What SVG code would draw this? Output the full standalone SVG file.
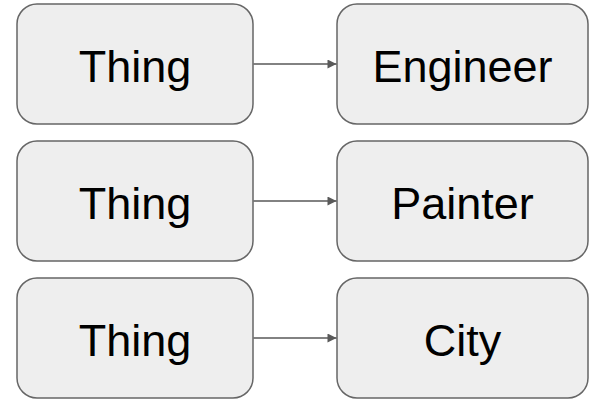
<svg xmlns="http://www.w3.org/2000/svg" width="594" height="402" viewBox="0 0 594 402">
  <style>
    .box { fill: #eeeeee; stroke: #666666; stroke-width: 1.5; }
    .label { font-family: "Liberation Sans", Arial, sans-serif; font-size: 45px; fill: #000000; text-anchor: middle; }
    .link { stroke: #595959; stroke-width: 1.3; fill: none; }
  </style>
  <defs>
    <marker id="arrow" viewBox="0 0 10 10" refX="10" refY="5" markerWidth="12" markerHeight="9" markerUnits="userSpaceOnUse" orient="auto">
      <path d="M0,0 L10,5 L0,10 Z" fill="#595959"/>
    </marker>
  </defs>

  <g id="thing-1">
    <rect class="box" x="17" y="4" width="236" height="120" rx="20" ry="20"/>
    <text class="label" x="135" y="82">Thing</text>
  </g>
  <g id="engineer">
    <rect class="box" x="337" y="4" width="251" height="120" rx="20" ry="20"/>
    <text class="label" x="462.5" y="82">Engineer</text>
  </g>

  <g id="thing-2">
    <rect class="box" x="17" y="141" width="236" height="120" rx="20" ry="20"/>
    <text class="label" x="135" y="219">Thing</text>
  </g>
  <g id="painter">
    <rect class="box" x="337" y="141" width="251" height="120" rx="20" ry="20"/>
    <text class="label" x="462.5" y="219">Painter</text>
  </g>

  <g id="thing-3">
    <rect class="box" x="17" y="278" width="236" height="120" rx="20" ry="20"/>
    <text class="label" x="135" y="356">Thing</text>
  </g>
  <g id="city">
    <rect class="box" x="337" y="278" width="251" height="120" rx="20" ry="20"/>
    <text class="label" x="462.5" y="356">City</text>
  </g>

  <g id="connectors">
    <line class="link" x1="253.5" y1="64" x2="336.5" y2="64" marker-end="url(#arrow)"/>
    <line class="link" x1="253.5" y1="201" x2="336.5" y2="201" marker-end="url(#arrow)"/>
    <line class="link" x1="253.5" y1="338" x2="336.5" y2="338" marker-end="url(#arrow)"/>
  </g>
</svg>
